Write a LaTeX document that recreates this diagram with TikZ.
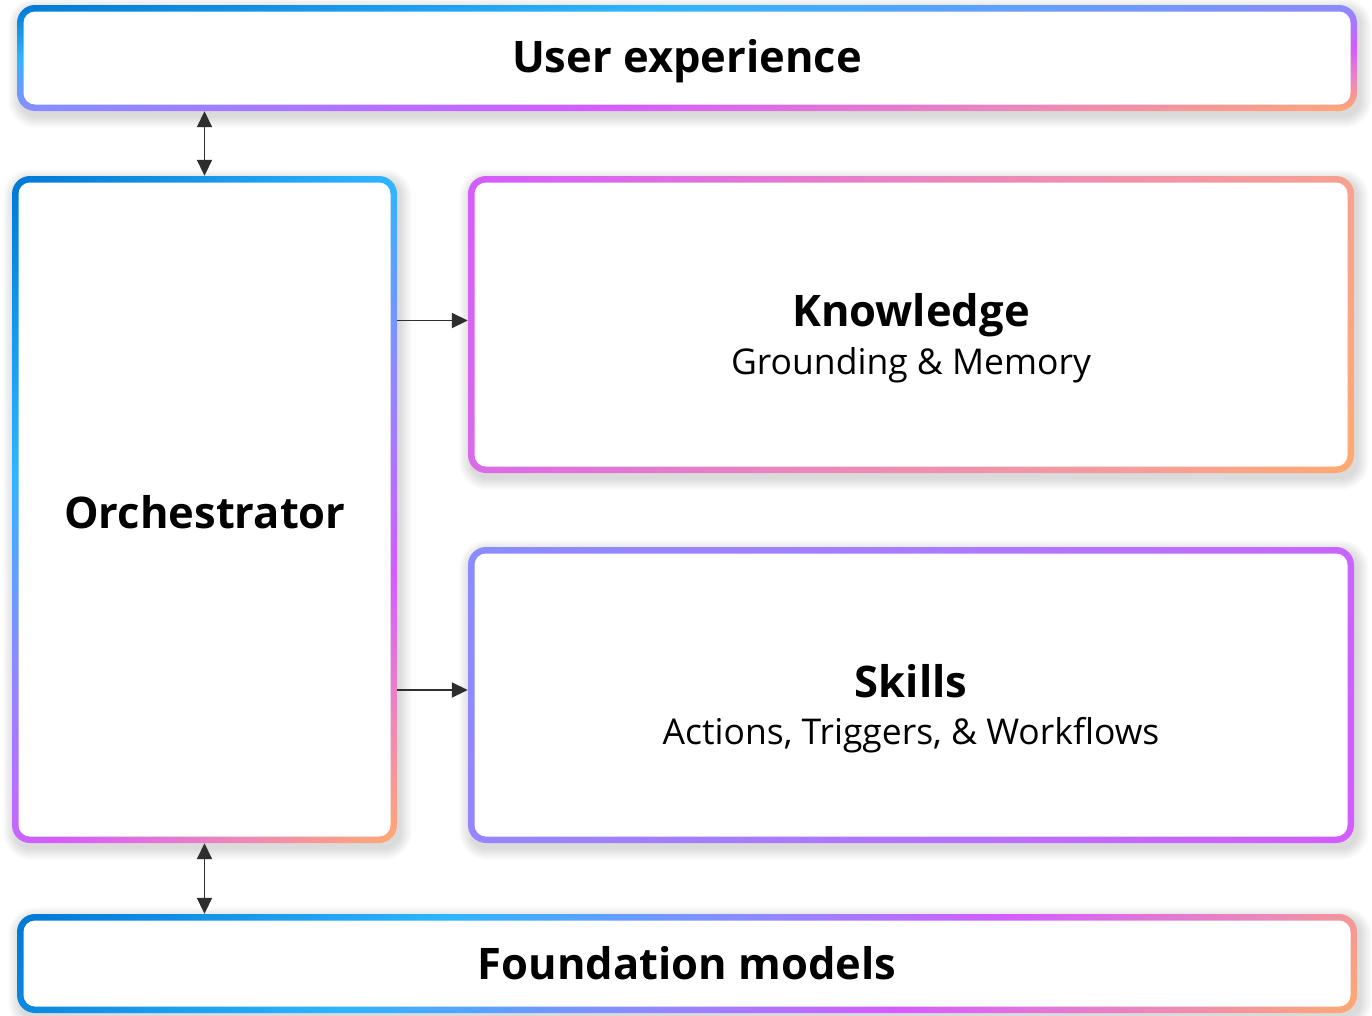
\documentclass[tikz,border=0pt]{standalone}
\usepackage{fontspec}
\setmainfont{Open Sans}
\usetikzlibrary{arrows.meta,fit,calc}

\definecolor{cA}{HTML}{0078D4}
\definecolor{cB}{HTML}{2EB5FF}
\definecolor{cC}{HTML}{8A8CFF}
\definecolor{cD}{HTML}{D45CFF}
\definecolor{cE}{HTML}{E986BE}
\definecolor{cF}{HTML}{F59E98}
\definecolor{cG}{HTML}{FFAA70}
\definecolor{cS}{HTML}{AD78FF}
\definecolor{arr}{HTML}{2E2E2E}

% stops run from 25bp (t=0, top-left corner) to 75bp (t=1, bottom-right corner)
\pgfdeclarehorizontalshading{uxsh}{100bp}{color(0bp)=(cA); color(25bp)=(cA); color(37.5bp)=(cB); color(50bp)=(cC); color(60bp)=(cD); color(67.5bp)=(cE); color(75bp)=(cG); color(100bp)=(cG)}
\pgfdeclarehorizontalshading{orsh}{100bp}{color(0bp)=(cA); color(25bp)=(cA); color(40.5bp)=(cB); color(50bp)=(cC); color(61bp)=(cD); color(68bp)=(cE); color(75bp)=(cG); color(100bp)=(cG)}
\pgfdeclarehorizontalshading{knsh}{100bp}{color(0bp)=(cD); color(25bp)=(cD); color(47.5bp)=(cE); color(65bp)=(cF); color(75bp)=(cG); color(100bp)=(cG)}
\pgfdeclarehorizontalshading{sksh}{100bp}{color(0bp)=(cC); color(25bp)=(cC); color(50bp)=(cS); color(75bp)=(cD); color(100bp)=(cD)}
\pgfdeclarehorizontalshading{fmsh}{100bp}{color(0bp)=(cA); color(25bp)=(cA); color(40bp)=(cB); color(50bp)=(cC); color(59bp)=(cD); color(67.5bp)=(cE); color(75bp)=(cG); color(100bp)=(cG)}

% #1 name, #2 x1, #3 y1, #4 x2, #5 y2, #6 shading, #7 a, #8 b  (t = a*u + b*v)
\newcommand\gradbox[8]{%
  \foreach \k in {1,...,12}{%
    \pgfmathsetmacro\rr{16+\k}%
    \fill[black, opacity=0.012, rounded corners=\rr pt] ($(#2,#3)+(3-\k,5-\k)$) rectangle ($(#4,#5)+(3+\k,5+\k)$);
  }%
  \pgfmathsetmacro\gW{#4-#2}%
  \pgfmathsetmacro\gH{#5-#3}%
  \pgfmathsetmacro\gx{1000*#7/\gW}%
  \pgfmathsetmacro\gy{1000*#8/\gH}%
  \pgfmathsetmacro\gL{1000/sqrt(\gx*\gx+\gy*\gy)}%
  \pgfmathsetmacro\gT{atan2(-\gy,\gx)}%
  \pgfmathsetmacro\gS{\gL/50.1875}%
  \pgfmathsetmacro\gcx{(#2+#4)/2}%
  \pgfmathsetmacro\gcy{-(#3+#5)/2}%
  \begin{scope}
    \clip[rounded corners=18pt] (#2,#3) rectangle (#4,#5);
    \pgflowlevel{\pgftransformshift{\pgfpoint{\gcx pt}{\gcy pt}}}%
    \pgflowlevel{\pgftransformrotate{\gT}}%
    \pgflowlevel{\pgftransformxscale{\gS}}%
    \pgflowlevel{\pgftransformyscale{20}}%
    \pgfuseshading{#6}%
  \end{scope}
  \fill[white, rounded corners=11.5pt] ($(#2,#3)+(6.5,6.5)$) rectangle ($(#4,#5)+(-6.5,-6.5)$);
  \node[fit={(#2,#3) (#4,#5)}, inner sep=0pt] (#1) {};
}

\tikzset{
  title/.style={anchor=base, font=\bfseries\fontsize{43.5}{48}\selectfont, text=black, inner sep=0pt},
  subtitle/.style={anchor=base, font=\fontsize{35.5}{40}\selectfont, text=black, inner sep=0pt},
  biarrow/.style={draw=arr, line width=1.8pt, {Triangle[length=16pt,width=15pt]}-{Triangle[length=16pt,width=15pt]}},
  onearrow/.style={draw=arr, line width=1.8pt, -{Triangle[length=16pt,width=15pt]}}
}

\begin{document}
\begin{tikzpicture}[x=1pt, y=-1pt]
  \fill[white] (0,0) rectangle (1372,1015);
  \useasboundingbox (0,0) rectangle (1372,1015);

  \gradbox{ux}{17}{5}{1357}{111}{uxsh}{0.5}{0.5}
  \gradbox{orch}{12}{176}{397}{843}{orsh}{0.31}{0.69}
  \gradbox{kn}{468}{176}{1354}{473}{knsh}{0.85}{0.15}
  \gradbox{sk}{468}{547}{1354}{843}{sksh}{0.85}{0.15}
  \gradbox{fm}{17}{914}{1357}{1013}{fmsh}{0.92}{0.08}

  \node[title] (uxt) at (687,72) {User experience};
  \node[title] (orcht) at (205,528) {Orchestrator};
  \node[title] (knt) at (911,326) {Knowledge};
  \node[subtitle] (kns) at (911,374) {Grounding \& Memory};
  \node[title] (skt) at (911,697) {Skills};
  \node[subtitle] (sks) at (911,744) {Actions, Triggers, \& Workflows};
  \node[title] (fmt) at (687,979) {Foundation models};

  \draw[biarrow] (orch.north |- ux.south) -- (orch.north);
  \draw[biarrow] (orch.south) -- (orch.south |- fm.north);
  \coordinate (ka) at ($(kn.west)+(0,-4)$);
  \coordinate (sa) at ($(sk.west)+(0,-5)$);
  \draw[onearrow] (orch.east |- ka) -- (ka);
  \draw[onearrow] (orch.east |- sa) -- (sa);
\end{tikzpicture}
\end{document}
